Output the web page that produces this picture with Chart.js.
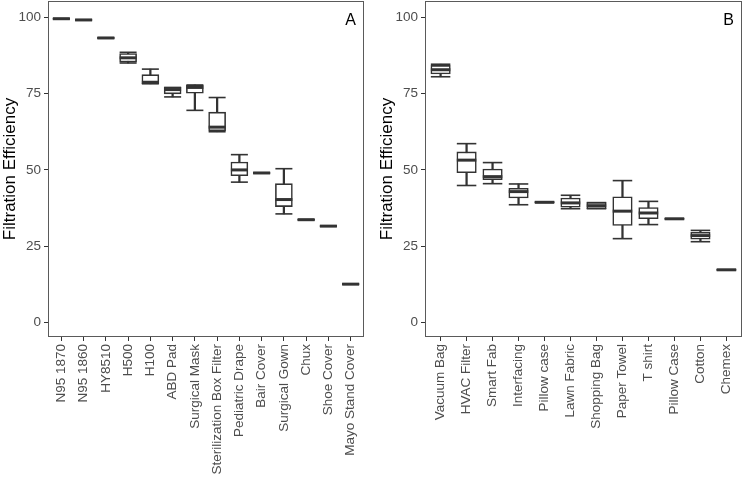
<!DOCTYPE html>
<html>
<head>
<meta charset="utf-8">
<script src="https://cdn.jsdelivr.net/npm/chart.js@4"></script>
<style>
  body { margin: 0; background: #fff; width: 745px; height: 477px; position: relative; overflow: hidden; }
  .panel { position: absolute; top: 0; height: 477px; }
</style>
</head>
<body>
<div class="panel" style="left:0;width:372px"><canvas id="chartA"></canvas></div>
<div class="panel" style="left:377px;width:368px"><canvas id="chartB"></canvas></div>
<script>
// panel A - medical materials
const catsA = ['N95 1870', 'N95 1860', 'HY8510', 'H500', 'H100', 'ABD Pad', 'Surgical Mask',
  'Sterilization Box Filter', 'Pediatric Drape', 'Bair Cover', 'Surgical Gown', 'Chux', 'Shoe Cover', 'Mayo Stand Cover'];
const minA = [99.5, 99.1, 93.2, 85.0, 78.2, 73.9, 69.5, 62.5, 46.0, 49.0, 35.6, 33.7, 31.6, 12.6];
const q1A  = [99.5, 99.1, 93.2, 85.3, 78.2, 74.9, 75.1, 62.8, 48.1, 49.0, 38.0, 33.7, 31.6, 12.6];
const medA = [99.5, 99.1, 93.2, 86.7, 78.7, 76.3, 77.0, 64.0, 50.0, 49.0, 40.3, 33.7, 31.6, 12.6];
const q3A  = [99.5, 99.1, 93.2, 88.1, 81.2, 77.0, 77.8, 68.9, 52.6, 49.0, 45.5, 33.7, 31.6, 12.6];
const maxA = [99.5, 99.1, 93.2, 88.5, 83.0, 77.0, 77.8, 73.7, 55.0, 49.0, 50.4, 33.7, 31.6, 12.6];

// panel B - household materials
const catsB = ['Vacuum Bag', 'HVAC Filter', 'Smart Fab', 'Interfacing', 'Pillow case', 'Lawn Fabric',
  'Shopping Bag', 'Paper Towel', 'T shirt', 'Pillow Case', 'Cotton', 'Chemex'];
const minB = [80.5, 44.9, 45.5, 38.6, 39.4, 37.3, 37.3, 27.5, 32.1, 34.0, 26.5, 17.3];
const q1B  = [81.4, 49.1, 46.8, 40.8, 39.4, 37.8, 37.3, 31.8, 34.0, 34.0, 27.3, 17.3];
const medB = [82.8, 53.2, 47.8, 42.9, 39.4, 39.2, 38.3, 36.5, 35.9, 34.0, 28.5, 17.3];
const q3B  = [84.2, 55.9, 50.3, 44.0, 39.4, 40.8, 39.3, 41.2, 37.7, 34.0, 29.6, 17.3];
const maxB = [84.6, 58.6, 52.4, 45.4, 39.4, 41.7, 39.3, 46.5, 39.7, 34.0, 30.2, 17.3];

const yTicks = [0, 25, 50, 75, 100];

Chart.defaults.font.family = "'Liberation Sans', Arial, sans-serif";
Chart.defaults.animation = false;

const frame = {
  id: 'frame',
  afterDraw(chart, args, opts) {
    const { ctx, chartArea: a } = chart;
    ctx.save();
    ctx.strokeStyle = '#5a5a5a';
    ctx.lineWidth = 1;
    ctx.strokeRect(a.left + 0.5, a.top + 0.5, a.right - a.left - 1, a.bottom - a.top - 1);
    ctx.fillStyle = '#000';
    ctx.font = "16px 'Liberation Sans', Arial, sans-serif";
    ctx.textAlign = 'right';
    ctx.textBaseline = 'middle';
    ctx.fillText(opts.letter, a.right - 8, a.top + 20);
    ctx.restore();
  }
};

function makeChart(id, cats, mn, q1, md, q3, mx, letter, boxW, padRight) {
  const idx = cats.map((c, i) => i);
  const caps = idx.flatMap(i => [{ x: i, y: mn[i] }, { x: i, y: mx[i] }]);
  return new Chart(document.getElementById(id), {
    type: 'bar',
    data: {
      datasets: [
        { type: 'scatter', data: idx.map(i => ({ x: i, y: md[i] })), pointStyle: 'line',
          radius: boxW / 2, borderWidth: 3, borderColor: '#333', order: 0 },
        { data: idx.map(i => ({ x: i, y: [q1[i], q3[i]] })), backgroundColor: '#fff', grouped: false,
          borderColor: '#333', borderWidth: 1.6, borderSkipped: false, barThickness: boxW, order: 1 },
        { type: 'scatter', data: caps, pointStyle: 'line', radius: boxW / 2,
          borderWidth: 1.6, borderColor: '#333', order: 2 },
        { data: idx.map(i => ({ x: i, y: [mn[i], mx[i]] })), backgroundColor: '#333', grouped: false,
          barThickness: 1.6, order: 3 }
      ]
    },
    options: {
      responsive: true,
      maintainAspectRatio: false,
      layout: { autoPadding: false, padding: { top: 1, right: padRight, left: 0, bottom: 0 } },
      plugins: { legend: { display: false }, tooltip: { enabled: false }, frame: { letter } },
      scales: {
        x: {
          type: 'linear', offset: false, min: -0.6, max: cats.length - 0.4,
          afterBuildTicks: s => { s.ticks = idx.map(v => ({ value: v })); },
          afterFit: s => { s.height = 140; s.paddingLeft = 0; s.paddingRight = 0; },
          ticks: { callback: v => cats[v], autoSkip: false, minRotation: 90, maxRotation: 90,
            color: '#4d4d4d', font: { size: 13.5 }, padding: 3 },
          grid: { drawOnChartArea: false, offset: false, tickLength: 4, tickColor: '#333' },
          border: { display: false }
        },
        y: {
          min: -4.7, max: 105.3,
          afterBuildTicks: s => { s.ticks = yTicks.map(v => ({ value: v })); },
          afterFit: s => { s.width = 48; s.paddingTop = 0; s.paddingBottom = 0; },
          ticks: { color: '#4d4d4d', font: { size: 13.5 }, padding: 3 },
          grid: { drawOnChartArea: false, tickLength: 4, tickColor: '#333' },
          border: { display: false },
          title: { display: true, text: 'Filtration Efficiency', color: '#000', font: { size: 17 }, padding: 0 }
        }
      }
    },
    plugins: [frame]
  });
}

makeChart('chartA', catsA, minA, q1A, medA, q3A, maxA, 'A', 17, 8);
makeChart('chartB', catsB, minB, q1B, medB, q3B, maxB, 'B', 19.5, 3);
</script>
</body>
</html>
